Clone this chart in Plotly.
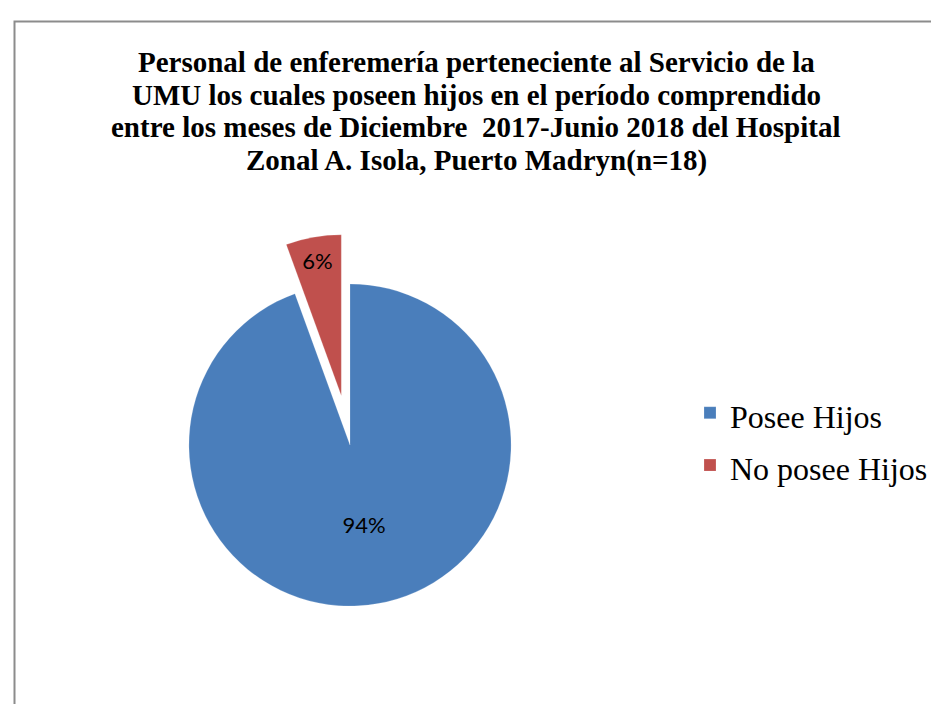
import plotly.graph_objects as go

labels = ["Posee Hijos", "No posee Hijos"]
values = [17, 1]
colors = ["#4A7EBB", "#C0504D"]
pulls = [0, 0.31]

title_lines = [
    "Personal de enferemería perteneciente al Servicio de la",
    "UMU los cuales poseen hijos en el período comprendido",
    "entre los meses de Diciembre  2017-Junio 2018 del Hospital",
    "Zonal A. Isola, Puerto Madryn(n=18)",
]

W, H = 939, 704

legend_labels = ['<span style="font-size:32px">%s</span>' % l for l in labels]

fig = go.Figure(go.Pie(
    labels=legend_labels,
    values=values,
    sort=False,
    direction="clockwise",
    rotation=0,
    pull=pulls,
    marker=dict(colors=colors, line=dict(color="rgba(255,255,255,0.4)", width=0.5)),
    textinfo="percent",
    texttemplate="%{percent:.0%}",
    textposition="inside",
    insidetextorientation="horizontal",
    textfont=dict(family="Lato", size=22, color="black"),
    domain=dict(x=[131 / W, 553 / W], y=[56 / H, 478 / H]),
    hoverinfo="percent",
))

# Title drawn line by line so that the tight line spacing can be matched
title_annotations = []
first_center, line_gap = 54, 32.7
for i, line in enumerate(title_lines):
    title_annotations.append(dict(
        text="<b>%s</b>" % line,
        xref="paper", yref="paper",
        x=468 / W, xanchor="center",
        y=1 - (first_center + i * line_gap) / H, yanchor="middle",
        showarrow=False,
        font=dict(family="Liberation Serif", size=29, color="black"),
    ))

fig.update_layout(
    width=W, height=H,
    margin=dict(l=0, r=0, t=0, b=0),
    paper_bgcolor="white",
    plot_bgcolor="white",
    annotations=title_annotations,
    legend=dict(
        x=682 / W, xanchor="left",
        y=1 - 431 / H, yanchor="middle",
        font=dict(family="Liberation Serif", size=38, color="black"),
        bgcolor="rgba(0,0,0,0)",
    ),
    uniformtext=dict(minsize=22, mode="show"),
    shapes=[dict(
        type="rect", xref="paper", yref="paper",
        x0=6.5 / W, x1=1.02, y0=-0.02, y1=1 - 13.5 / H,
        line=dict(color="#8C8C8C", width=2),
        fillcolor="rgba(0,0,0,0)", layer="below",
    )],
)

fig.write_html("out.html")
